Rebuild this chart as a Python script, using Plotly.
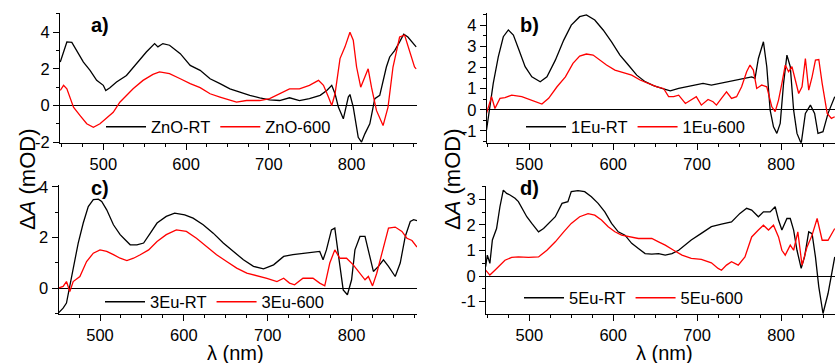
import plotly.graph_objects as go

# ---------------- data ----------------
a_rt_x = [448,456,462,470,476,484,492,500,503,508,516,528,540,552,562,566,572,580,593,605,617,629,641,653,665,677,689,701,713,725,737,749,762,770,776,780,784,790,796,798,802,808,812,816,822,828,834,842,846,852,858,863,868,874,878]
a_rt_y = [2.37,3.47,3.45,2.83,2.37,1.92,1.37,1.1,0.82,0.97,1.28,1.64,2.28,2.92,3.38,3.2,3.38,3.29,2.83,2.19,1.92,1.46,1.19,0.91,0.73,0.55,0.42,0.31,0.27,0.42,0.27,0.37,0.55,0.82,1.1,0.64,-0.09,-0.73,0.46,0.6,-0.09,-1.74,-2.0,-1.55,-1.0,0.37,0.55,2.1,2.65,3.0,3.47,3.89,3.74,3.38,3.2]
a_600_x = [448,452,456,460,464,472,480,488,496,504,512,520,528,536,548,560,568,580,593,605,617,629,641,653,661,673,689,701,713,725,737,749,760,766,772,776,780,786,792,798,802,806,811,816,820,824,830,838,844,850,858,864,870,876,878]
a_600_y = [0.82,1.1,0.91,0.37,-0.09,-0.55,-1.0,-1.19,-1.0,-0.68,-0.37,0.18,0.55,0.91,1.37,1.7,1.83,1.74,1.46,1.19,0.97,0.64,0.46,0.27,0.18,0.27,0.27,0.37,0.64,0.91,0.91,1.1,1.37,1.1,0.46,0.0,0.64,2.56,3.2,4.0,3.56,2.1,1.0,1.55,2.0,1.0,-0.27,-1.1,-0.09,2.1,3.74,3.84,3.0,2.1,2.0]

b_rt_x = [449,453,457,463,469,475,481,487,495,503,513,521,531,541,550,560,568,578,588,598,608,618,628,638,648,658,668,678,688,697,707,717,727,737,747,757,765,769,773,779,783,787,791,795,799,803,807,811,815,819,824,829,835,840,844,850,856,864]
b_rt_y = [-0.96,0.14,1.25,2.51,3.46,3.78,3.54,2.9,2.04,1.56,1.33,1.56,2.35,3.3,4.01,4.41,4.49,4.25,3.78,3.22,2.59,2.12,1.64,1.33,1.14,1.01,0.9,1.01,1.09,1.17,1.25,1.17,1.25,1.36,1.41,1.49,1.56,1.49,2.43,3.22,2.04,-0.02,-0.81,-1.12,-0.65,1.25,2.59,2.04,-0.02,-1.12,-1.6,-0.17,0.22,-0.17,-1.12,-1.04,-0.17,0.62]
b_600_x = [449,455,459,465,471,479,491,503,515,523,533,543,552,560,568,576,584,592,602,612,622,632,642,652,660,666,672,678,686,693,699,705,713,719,723,729,735,741,747,753,759,763,767,771,777,783,789,793,797,801,805,809,813,817,821,825,829,833,837,841,845,849,855,860,864]
b_600_y = [-0.17,0.62,0.06,0.54,0.58,0.69,0.62,0.46,0.27,0.54,1.09,1.56,2.2,2.54,2.64,2.59,2.35,2.12,1.88,1.75,1.64,1.41,1.25,1.09,1.01,0.62,0.62,0.69,0.3,0.46,0.62,0.22,0.49,0.38,0.22,0.54,0.85,0.54,0.62,1.09,1.8,2.12,1.88,1.01,1.17,1.09,0.14,-0.09,0.46,1.25,2.12,1.8,2.04,1.41,0.77,1.09,2.43,0.93,1.56,2.35,2.38,1.25,-0.17,-0.41,-0.33]

c_rt_x = [450,456,460,464,468,474,480,486,492,498,502,508,516,524,530,536,544,552,560,568,579,589,601,611,623,635,647,659,671,683,695,707,719,730,742,754,762,766,770,776,780,784,790,795,800,804,810,816,822,826,832,838,844,852,858,864,870,874,878]
c_rt_y = [-0.99,-0.79,-0.59,0.07,0.86,1.78,2.57,3.22,3.49,3.51,3.42,3.09,2.5,2.11,1.91,1.71,1.71,1.78,2.17,2.57,2.83,2.96,2.89,2.76,2.5,2.17,1.78,1.45,1.12,0.86,0.76,0.92,1.25,1.32,1.36,1.41,1.45,1.12,1.51,2.3,2.37,1.38,-0.07,-0.26,0.33,1.51,2.04,2.04,1.25,0.66,0.86,1.12,0.86,0.46,0.99,2.04,2.63,2.7,2.66]
c_600_x = [450,456,460,464,468,476,484,492,500,508,516,524,532,540,548,558,568,579,591,603,615,627,639,651,663,675,687,699,711,719,726,732,742,754,762,768,774,780,786,794,802,810,816,820,825,830,836,844,852,860,866,872,878]
c_600_y = [0.0,0.07,0.26,-0.13,0.26,0.46,1.05,1.38,1.51,1.45,1.32,1.18,1.09,1.18,1.32,1.51,1.84,2.11,2.3,2.24,1.97,1.64,1.32,1.05,0.79,0.59,0.49,0.39,0.26,0.39,0.2,0.13,0.39,0.39,0.2,0.09,0.99,1.51,1.18,1.18,0.92,0.59,0.33,0.46,0.09,0.59,1.38,2.37,2.41,2.24,1.97,1.88,1.62]

d_rt_x = [448,450,453,456,461,465,469,473,477,483,487,491,497,503,511,517,523,531,539,546,550,558,566,574,582,590,598,606,614,622,630,638,646,654,662,670,678,686,693,705,717,729,741,751,759,765,773,779,787,793,797,801,807,811,815,819,824,828,833,837,841,845,850,856,860,864]
d_rt_y = [0.37,0.82,0.5,1.41,1.86,2.71,3.36,3.23,3.17,3.04,2.91,2.65,2.32,2.06,1.73,1.86,2.06,2.32,2.84,2.91,3.3,3.34,3.3,3.1,2.84,2.51,2.06,1.73,1.6,1.28,1.08,0.88,0.86,0.88,0.82,0.88,1.01,1.21,1.41,1.67,1.93,2.03,2.12,2.45,2.65,2.58,2.32,2.51,2.51,2.71,2.19,1.8,2.25,2.25,1.8,1.01,0.3,0.75,1.73,1.66,0.75,-0.42,-1.46,-0.68,-0.03,0.75]
d_600_x = [448,453,459,465,471,479,487,499,511,521,531,541,550,560,570,578,586,594,602,610,620,630,638,646,654,662,672,682,693,705,717,725,729,735,741,749,757,765,773,779,785,791,797,801,805,811,815,820,825,831,837,843,849,856,864]
d_600_y = [0.23,0.04,0.23,0.43,0.62,0.73,0.75,0.73,0.75,1.01,1.34,1.73,2.06,2.32,2.44,2.38,2.19,1.93,1.73,1.6,1.53,1.47,1.47,1.47,1.34,1.21,1.01,0.82,0.69,0.65,0.52,0.3,0.23,0.43,0.56,0.43,0.75,1.53,1.8,1.99,1.8,1.99,1.53,1.01,0.82,1.21,1.01,1.73,0.43,1.14,1.6,2.25,1.4,1.4,1.86]

names = [("ZnO-RT", "ZnO-600"), ("1Eu-RT", "1Eu-600"), ("3Eu-RT", "3Eu-600"), ("5Eu-RT", "5Eu-600")]
panel_labels = ["a)", "b)", "c)", "d)"]
x_tickvals = [500, 600, 700, 800]
x_ticktext = ["500", "600", "700", "800"]
y_ticks = [
    ([-2, 0, 2, 4], ["-2", "0", "2", "4"]),
    ([-1, 0, 1, 2, 3, 4], ["-1", "0", "1", "2", "3", "4"]),
    ([0, 2, 4], ["0", "2", "4"]),
    ([-1, 0, 1, 2, 3], ["-1", "0", "1", "2", "3"]),
]
y_minor = [1, 0.5, 1, 0.5]
x_title = "λ (nm)"
y_title = "Δ<i>A</i> (mOD)"

series = [
    (a_rt_x, a_rt_y, a_600_x, a_600_y),
    (b_rt_x, b_rt_y, b_600_x, b_600_y),
    (c_rt_x, c_rt_y, c_600_x, c_600_y),
    (d_rt_x, d_rt_y, d_600_x, d_600_y),
]

# ---------------- layout geometry (pixels in 835x363) ----------------
W, H = 835, 363
px_dom = [(60, 417, 13, 143), (486.7, 835, 13.3, 142.7), (58.5, 417, 185, 314), (486, 835, 186, 314)]
x_ranges = [[447.7, 879], [449.2, 864.3], [450.5, 878], [448.4, 864.3]]
y_ranges = [[-2.05, 5.05], [-1.56, 4.57], [-1.02, 4.07], [-1.48, 3.52]]
leg_pos = [(101, 127), (521, 127), (100, 302), (519, 298)]

FONT = "Liberation Sans, Arial, sans-serif"
fig = go.Figure()
layout = dict(width=W, height=H, margin=dict(l=0, r=0, t=0, b=0, autoexpand=False),
              paper_bgcolor="white", plot_bgcolor="white",
              font=dict(family=FONT, size=16.5, color="black"), annotations=[])

for i in range(4):
    sx = "" if i == 0 else str(i + 1)
    xr, yr_, xo, yo = series[i]
    legname = "legend" if i == 0 else "legend" + str(i + 1)
    fig.add_trace(go.Scatter(x=xr, y=yr_, mode="lines", name=names[i][0],
                             line=dict(color="black", width=1.3),
                             xaxis="x" + sx, yaxis="y" + sx, legend=legname))
    fig.add_trace(go.Scatter(x=xo, y=yo, mode="lines", name=names[i][1],
                             line=dict(color="#ff0000", width=1.3),
                             xaxis="x" + sx, yaxis="y" + sx, legend=legname))
    l, r, t, b = px_dom[i]
    layout["xaxis" + sx] = dict(
        domain=[l / W, r / W], range=x_ranges[i], anchor="y" + sx, automargin=False,
        showgrid=False, zeroline=False, showline=True, linecolor="black", linewidth=1,
        ticks="outside", ticklen=6, tickwidth=1, tickcolor="black",
        tickvals=x_tickvals, ticktext=x_ticktext,
        minor=dict(dtick=25, tick0=0, ticks="outside", ticklen=3, tickcolor="black", showgrid=False),
        tickfont=dict(size=16.5))
    layout["yaxis" + sx] = dict(
        domain=[1 - b / H, 1 - t / H], range=y_ranges[i], anchor="x" + sx, automargin=False,
        showgrid=False, zeroline=True, zerolinecolor="black", zerolinewidth=1,
        showline=True, linecolor="black", linewidth=1,
        ticks="outside", ticklen=6, tickwidth=1, tickcolor="black",
        tickvals=y_ticks[i][0], ticktext=y_ticks[i][1],
        minor=dict(dtick=y_minor[i], tick0=0, ticks="outside", ticklen=3, tickcolor="black", showgrid=False),
        tickfont=dict(size=16.5))
    lx, ly = leg_pos[i]
    layout[legname] = dict(x=lx / W, y=1 - ly / H, xanchor="left", yanchor="middle",
                           orientation="h", bgcolor="rgba(0,0,0,0)", borderwidth=0,
                           font=dict(size=16.5), tracegroupgap=0, itemwidth=40)

# panel labels
lab_pos = [(89, 25), (518, 25), (89, 188), (518, 188)]
for i in range(4):
    x, y = lab_pos[i]
    layout["annotations"].append(dict(text="<b>" + panel_labels[i] + "</b>", x=x / W, y=1 - y / H,
                                      xref="paper", yref="paper", xanchor="left", yanchor="middle",
                                      showarrow=False, font=dict(size=20)))
# axis titles
for cx in (27, 452):
    layout["annotations"].append(dict(text=y_title, x=cx / W, y=1 - 180 / H, xref="paper", yref="paper",
                                      xanchor="center", yanchor="middle", textangle=-90,
                                      showarrow=False, font=dict(size=22)))
for cx in (235, 664):
    layout["annotations"].append(dict(text=x_title, x=cx / W, y=1 - 353 / H, xref="paper", yref="paper",
                                      xanchor="center", yanchor="middle",
                                      showarrow=False, font=dict(size=20)))

fig.update_layout(**layout)
fig.write_html("out.html", config={"displayModeBar": False},
               post_script="document.body.style.margin='0';document.body.style.overflow='hidden';")
